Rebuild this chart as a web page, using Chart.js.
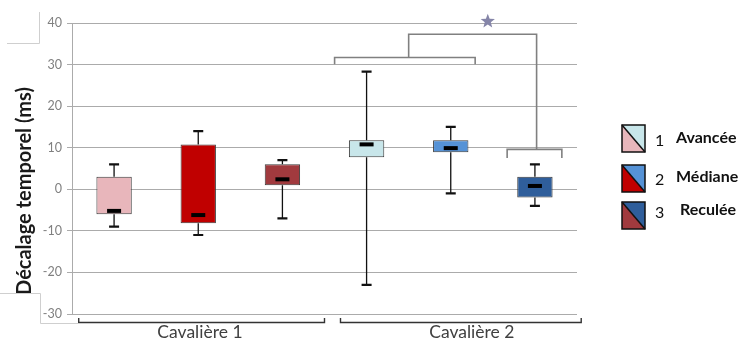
<!DOCTYPE html>
<html lang="fr">
<head>
<meta charset="utf-8">
<script src="https://cdn.jsdelivr.net/npm/chart.js@4.4.1/dist/chart.umd.min.js"></script>
<style>
    body { margin: 0; background: #fff; }
    canvas { display: block; }
</style>
</head>
<body>
<canvas id="box-chart" width="742" height="340"></canvas>
<script>
const groupLabels = ['Cavalière 1', 'Cavalière 2'];
const positionLabels = ['Avancée', 'Médiane', 'Reculée'];
const boxLabels = ['C1 Avancée', 'C1 Médiane', 'C1 Reculée', 'C2 Avancée', 'C2 Médiane', 'C2 Reculée'];

// box plot values (ms)
const whiskerLow   = [-9, -11, -7, -23, -1, -4];
const quartileLow  = [-6, -8.2, 1, 7.7, 8.9, -2];
const medianValues = [-5.2, -6.2, 2.4, 10.8, 9.9, 0.8];
const quartileHigh = [3, 10.8, 6, 11.8, 11.8, 3];
const whiskerHigh  = [6, 14, 7, 28.3, 15, 6];

const yMin = -30;
const yMax = 40;
const yStep = 10;

const boxColors = ['#e8b6bb', '#c00000', '#a13a3e', '#c8e6ea', '#5592d6', '#2f5e9b'];

// significance bracket: C2 Avancée + Médiane vs C2 Reculée
const pairBracketLevel = 31.7;
const pairBracketLegs = 30.1;
const linkLevel = 37.3;
const singleBracketLevel = 9.6;
const singleBracketLegs = 7.5;
const starLevel = 40.4;

document.addEventListener('DOMContentLoaded', function () {
    const ctx = document.getElementById('box-chart').getContext('2d');

    const boxPlotPlugin = {
        id: 'boxPlot',
        beforeDatasetsDraw(chart) {
            const c = chart.ctx;
            const x = chart.scales.x;
            const y = chart.scales.y;
            c.save();
            c.strokeStyle = '#111';
            boxLabels.forEach((label, i) => {
                const px = x.getPixelForValue(i);
                c.lineWidth = 1.3;
                c.beginPath();
                c.moveTo(px, y.getPixelForValue(quartileHigh[i]));
                c.lineTo(px, y.getPixelForValue(whiskerHigh[i]));
                c.moveTo(px, y.getPixelForValue(quartileLow[i]));
                c.lineTo(px, y.getPixelForValue(whiskerLow[i]));
                c.stroke();
                c.lineWidth = 2.2;
                c.beginPath();
                c.moveTo(px - 5, y.getPixelForValue(whiskerHigh[i]));
                c.lineTo(px + 5, y.getPixelForValue(whiskerHigh[i]));
                c.moveTo(px - 5, y.getPixelForValue(whiskerLow[i]));
                c.lineTo(px + 5, y.getPixelForValue(whiskerLow[i]));
                c.stroke();
            });
            c.restore();
        },
        afterDatasetsDraw(chart) {
            const c = chart.ctx;
            const x = chart.scales.x;
            const y = chart.scales.y;
            c.save();
            c.fillStyle = '#000';
            medianValues.forEach((m, i) => {
                const px = x.getPixelForValue(i);
                const py = y.getPixelForValue(m);
                c.fillRect(px - 7, py - 2, 14, 4);
            });
            c.restore();
        },
        afterDraw(chart) {
            const c = chart.ctx;
            const x = chart.scales.x;
            const y = chart.scales.y;
            const area = chart.chartArea;
            c.save();

            // significance brackets
            c.strokeStyle = '#808080';
            c.lineWidth = 1.6;
            const l = x.getPixelForValue(2.62), r = x.getPixelForValue(4.29);
            const mid = x.getPixelForValue(3.5), target = x.getPixelForValue(5.02);
            c.beginPath();
            c.moveTo(l, y.getPixelForValue(pairBracketLegs));
            c.lineTo(l, y.getPixelForValue(pairBracketLevel));
            c.lineTo(r, y.getPixelForValue(pairBracketLevel));
            c.lineTo(r, y.getPixelForValue(pairBracketLegs));
            c.moveTo(mid, y.getPixelForValue(pairBracketLevel));
            c.lineTo(mid, y.getPixelForValue(linkLevel));
            c.lineTo(target, y.getPixelForValue(linkLevel));
            c.lineTo(target, y.getPixelForValue(singleBracketLevel));
            const sl = x.getPixelForValue(4.67), sr = x.getPixelForValue(5.32);
            c.moveTo(sl, y.getPixelForValue(singleBracketLegs));
            c.lineTo(sl, y.getPixelForValue(singleBracketLevel));
            c.lineTo(sr, y.getPixelForValue(singleBracketLevel));
            c.lineTo(sr, y.getPixelForValue(singleBracketLegs));
            c.stroke();

            // star
            const sx = x.getPixelForValue(4.44), sy = y.getPixelForValue(starLevel);
            c.fillStyle = '#8585a8';
            c.beginPath();
            for (let k = 0; k < 10; k++) {
                const rad = k % 2 === 0 ? 7.5 : 3.2;
                const a = -Math.PI / 2 + k * Math.PI / 5;
                c.lineTo(sx + rad * Math.cos(a), sy + rad * Math.sin(a));
            }
            c.closePath();
            c.fill();

            // group brackets under the axis
            c.strokeStyle = '#333';
            c.lineWidth = 1.4;
            const groupSpans = [[-0.42, 2.5], [2.69, 5.55]];
            groupSpans.forEach(span => {
                const a = x.getPixelForValue(span[0]);
                const b = x.getPixelForValue(span[1]);
                c.beginPath();
                c.moveTo(a, area.bottom + 4);
                c.lineTo(a, area.bottom + 8.5);
                c.lineTo(b, area.bottom + 8.5);
                c.lineTo(b, area.bottom + 4);
                c.stroke();
            });
            c.fillStyle = '#404040';
            c.font = '17.5px Lato';
            c.textAlign = 'center';
            c.textBaseline = 'alphabetic';
            c.fillText(groupLabels[0], x.getPixelForValue(1.02), area.bottom + 24);
            c.fillText(groupLabels[1], x.getPixelForValue(4.25), area.bottom + 24);

            // y axis title
            c.save();
            c.translate(31, 191);
            c.rotate(-Math.PI / 2);
            c.fillStyle = '#1a1a1a';
            c.font = 'bold 20px Lato';
            c.textAlign = 'center';
            c.textBaseline = 'alphabetic';
            c.fillText('Décalage temporel (ms)', 0, 0);
            c.restore();

            // frame left over from the original figure
            c.strokeStyle = '#cfcfcf';
            c.lineWidth = 1;
            c.beginPath();
            c.moveTo(7, 43.5); c.lineTo(39.5, 43.5); c.lineTo(39.5, 12);
            c.moveTo(0, 293.5); c.lineTo(40.5, 293.5); c.lineTo(40.5, 323.5); c.lineTo(78, 323.5);
            c.stroke();

            // legend
            const legendTop = [125, 165, 202];
            const textBase = [143, 182, 215];
            positionLabels.forEach((name, i) => {
                const lx = 622, ly = legendTop[i], w = 23, h = 27;
                c.fillStyle = boxColors[i];
                c.beginPath();
                c.moveTo(lx, ly); c.lineTo(lx + w, ly + h); c.lineTo(lx, ly + h); c.closePath();
                c.fill();
                c.fillStyle = boxColors[i + 3];
                c.beginPath();
                c.moveTo(lx, ly); c.lineTo(lx + w, ly); c.lineTo(lx + w, ly + h); c.closePath();
                c.fill();
                c.strokeStyle = '#111';
                c.lineWidth = 1.5;
                c.strokeRect(lx, ly, w, h);
                c.beginPath();
                c.moveTo(lx, ly); c.lineTo(lx + w, ly + h);
                c.stroke();

                c.fillStyle = '#111';
                c.textAlign = 'left';
                c.textBaseline = 'alphabetic';
                c.font = '16px Lato';
                c.fillText(String(i + 1), 655, textBase[i] + 3);
                c.font = 'bold 16px Lato';
                c.fillText(name, i === 2 ? 680 : 676, textBase[i]);
            });

            c.restore();
        }
    };

    new Chart(ctx, {
        type: 'bar',
        data: {
            labels: boxLabels,
            datasets: [
                {
                    label: 'Boîtes',
                    data: boxLabels.map((lab, i) => [quartileLow[i], quartileHigh[i]]),
                    backgroundColor: boxColors,
                    borderColor: '#3a3a3a',
                    borderWidth: 1,
                    borderSkipped: false,
                    barPercentage: 0.42,
                    categoryPercentage: 1,
                },
            ],
        },
        options: {
            responsive: false,
            animation: false,
            layout: {
                padding: { top: 23, right: 165, bottom: 26, left: 0 },
            },
            plugins: {
                legend: { display: false },
                tooltip: { enabled: false },
            },
            scales: {
                x: {
                    display: false,
                    offset: true,
                },
                y: {
                    min: yMin,
                    max: yMax,
                    ticks: {
                        stepSize: yStep,
                        padding: 5,
                        color: '#808080',
                        font: { family: 'Lato', size: 12.5 },
                    },
                    grid: {
                        color: '#ababab',
                        tickColor: '#ababab',
                        tickLength: 5,
                    },
                    border: { color: '#ababab' },
                    afterFit: function (scale) {
                        scale.width = 72;
                    },
                },
            },
        },
        plugins: [boxPlotPlugin],
    });
});
</script>
</body>
</html>
